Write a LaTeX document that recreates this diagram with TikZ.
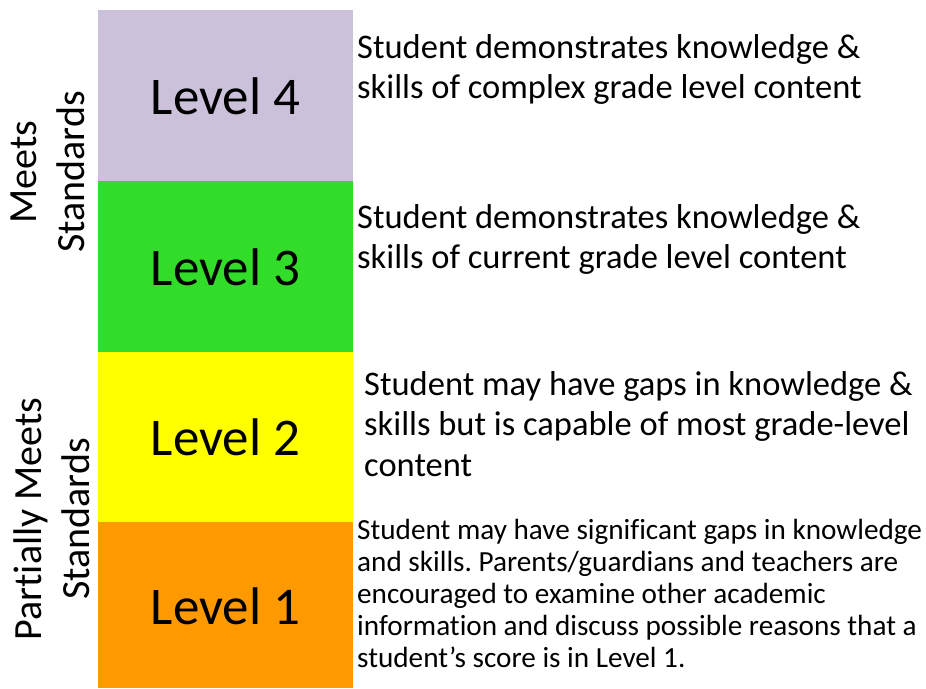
\documentclass[tikz,border=0pt]{standalone}
\usepackage{fontspec}
\setmainfont{Carlito}[Ligatures=CommonOff]
\frenchspacing
\definecolor{lvfour}{RGB}{204,193,218}
\definecolor{lvthree}{RGB}{50,221,42}
\definecolor{lvtwo}{RGB}{255,255,0}
\definecolor{lvone}{RGB}{255,153,0}
\tikzset{
  levelbox/.style={inner sep=0pt, outer sep=0pt, font=\fontsize{53}{64}\selectfont},
  desc/.style={anchor=north west, inner sep=0pt, align=left, font=\fontsize{34.5}{40.5}\selectfont},
  descsmall/.style={anchor=north west, inner sep=0pt, align=left, font=\fontsize{29.2}{31.8}\selectfont},
  sidelabel/.style={rotate=90, align=center, inner sep=0pt, font=\fontsize{40}{48}\selectfont}
}
\begin{document}
\begin{tikzpicture}[x=1pt,y=-1pt]
\useasboundingbox (0,0) rectangle (926,688);
\fill[lvfour] (98,10) rectangle (353,181);
\fill[lvthree] (98,181) rectangle (353,352);
\fill[lvtwo] (98,352) rectangle (353,522);
\fill[lvone] (98,522) rectangle (353,688);
\node[levelbox] (l4) at (225.5,96) {Level 4};
\node[levelbox] (l3) at (225.5,267) {Level 3};
\node[levelbox] (l2) at (225.5,437) {Level 2};
\node[levelbox] (l1) at (225.5,606) {Level 1};
\node[desc] (d4) at (357,34) {Student demonstrates knowledge \&\\skills of complex grade level content};
\node[desc] (d3) at (357,204) {Student demonstrates knowledge \&\\skills of current grade level content};
\node[desc] (d2) at (364,371) {Student may have gaps in knowledge \&\\skills but is capable of most grade-level\\content};
\node[descsmall] (d1) at (357,519.5) {Student may have significant gaps in knowledge\\and skills. Parents/guardians and teachers are\\encouraged to examine other academic\\information and discuss possible reasons that a\\student’s score is in Level 1.};
\node[sidelabel] (ms) at (48,172) {Meets\\Standards};
\node[sidelabel] (pms) at (52,519) {Partially Meets\\Standards};
\end{tikzpicture}
\end{document}
